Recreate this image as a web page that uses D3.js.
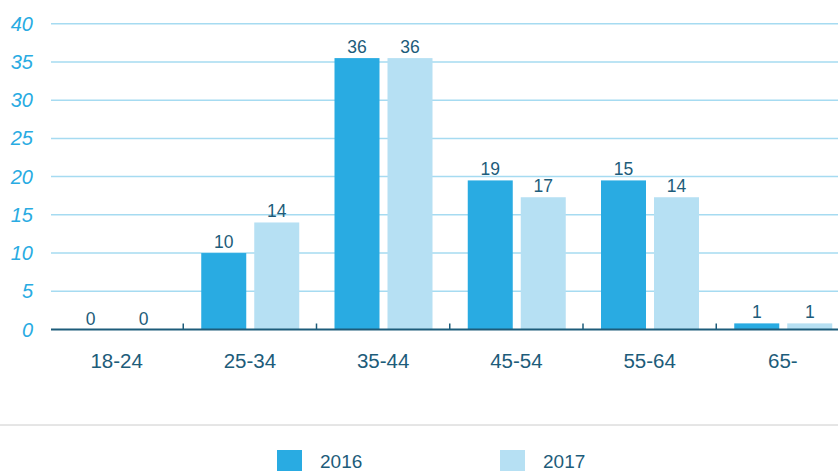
<!DOCTYPE html>
<html>
<head>
<meta charset="utf-8">
<script src="https://cdn.jsdelivr.net/npm/d3@7"></script>
<style>
  html, body { margin: 0; padding: 0; background: #fff; }
  svg { display: block; font-family: "Liberation Sans", Arial, Helvetica, sans-serif; }
</style>
</head>
<body>
<svg id="chart" width="838" height="471"></svg>
<script>
const categories = ["18-24", "25-34", "35-44", "45-54", "55-64", "65-"];
const seriesNames = ["2016", "2017"];
// bar heights as drawn in the picture
const values2016 = [0, 10, 35.5, 19.5, 19.5, 0.8];
const values2017 = [0, 14, 35.5, 17.3, 17.3, 0.8];
// value labels printed above the bars
const labels2016 = ["0", "10", "36", "19", "15", "1"];
const labels2017 = ["0", "14", "36", "17", "14", "1"];
const yTicks = [0, 5, 10, 15, 20, 25, 30, 35, 40];
const colors = ["#29abe2", "#b6e0f3"];

const svg = d3.select("#chart");
const W = 838;

const x0 = d3.scaleBand().domain(categories).range([50, 849.5]).padding(0);
const x1 = d3.scaleBand().domain(seriesNames).range([18, 116]).paddingInner(0.151).paddingOuter(0);
const y = d3.scaleLinear().domain([0, 40]).range([329.5, 23.7]);
const color = d3.scaleOrdinal().domain(seriesNames).range(colors);

// gridlines
svg.append("g").selectAll("line").data(yTicks.filter(t => t > 0)).join("line")
  .attr("x1", 51).attr("x2", W)
  .attr("y1", d => y(d)).attr("y2", d => y(d))
  .attr("stroke", "#a6dbf1").attr("stroke-width", 1.5);

// y tick labels
svg.append("g").selectAll("text").data(yTicks).join("text")
  .attr("x", 33).attr("y", d => y(d))
  .attr("dy", "0.35em")
  .attr("text-anchor", "end")
  .attr("font-size", 20).attr("font-style", "italic")
  .attr("fill", "#29abe2")
  .text(d => d);

const rows = categories.map((c, i) => ({
  cat: c,
  items: [
    { s: seriesNames[0], v: values2016[i], l: labels2016[i] },
    { s: seriesNames[1], v: values2017[i], l: labels2017[i] }
  ]
}));

const groups = svg.append("g").selectAll("g").data(rows).join("g")
  .attr("transform", d => `translate(${x0(d.cat)},0)`);

groups.selectAll("rect").data(d => d.items).join("rect")
  .attr("x", d => x1(d.s))
  .attr("width", x1.bandwidth())
  .attr("y", d => y(d.v))
  .attr("height", d => y(0) - y(d.v))
  .attr("fill", d => color(d.s));

groups.selectAll("text.val").data(d => d.items).join("text")
  .attr("class", "val")
  .attr("x", d => x1(d.s) + x1.bandwidth() / 2)
  .attr("y", d => y(d.v) - 5)
  .attr("text-anchor", "middle")
  .attr("font-size", 17.5)
  .attr("fill", "#1d5c7a")
  .text(d => d.l);

// axis
const axis = d3.axisBottom(x0).tickSize(0).tickPadding(0);
const ax = svg.append("g").attr("transform", `translate(0,${y(0)})`).call(axis);
ax.select(".domain").remove();
ax.selectAll("text")
  .attr("y", 31).attr("dy", "0.35em")
  .attr("font-size", 20.5)
  .attr("font-family", "Liberation Sans, Arial, sans-serif")
  .attr("fill", "#1d5c7a");
svg.append("line")
  .attr("x1", 51).attr("x2", W).attr("y1", y(0)).attr("y2", y(0))
  .attr("stroke", "#1d5c7a").attr("stroke-width", 2);
// boundary ticks
svg.append("g").selectAll("line").data(categories.slice(1)).join("line")
  .attr("x1", d => x0(d)).attr("x2", d => x0(d))
  .attr("y1", y(0) - 6).attr("y2", y(0))
  .attr("stroke", "#1d5c7a").attr("stroke-width", 1.5);

// separator
svg.append("line").attr("x1", 0).attr("x2", W).attr("y1", 425).attr("y2", 425)
  .attr("stroke", "#cccccc").attr("stroke-width", 1);

// legend
const legendX = [277, 500];
const lg = svg.append("g").selectAll("g").data(seriesNames).join("g")
  .attr("transform", (d, i) => `translate(${legendX[i]},450)`);
lg.append("rect").attr("width", 25).attr("height", 25).attr("fill", d => color(d));
lg.append("text").attr("x", 43).attr("y", 18)
  .attr("font-size", 19).attr("fill", "#1d5c7a").text(d => d);
</script>
</body>
</html>
